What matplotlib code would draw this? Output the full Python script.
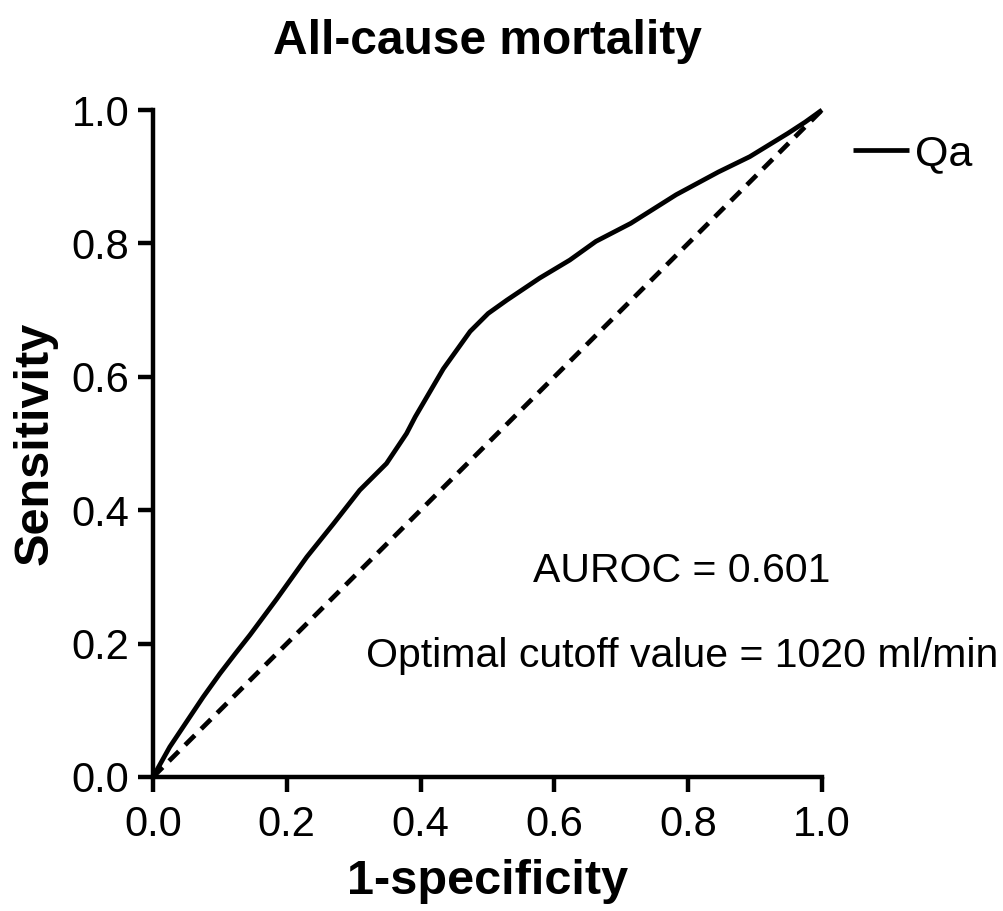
import matplotlib
matplotlib.use("Agg")
import matplotlib.pyplot as plt

plt.rcParams['font.family'] = ['Liberation Sans', 'DejaVu Sans']

fpr = [0, 0.025, 0.055, 0.075, 0.100, 0.123, 0.145, 0.165, 0.185, 0.230, 0.270,
       0.309, 0.349, 0.379, 0.392, 0.434, 0.474, 0.501, 0.529, 0.578, 0.623,
       0.662, 0.714, 0.782, 0.845, 0.892, 0.949, 0.975, 1.0]
tpr = [0, 0.045, 0.090, 0.120, 0.155, 0.185, 0.213, 0.240, 0.267, 0.330, 0.380,
       0.430, 0.470, 0.515, 0.540, 0.612, 0.668, 0.695, 0.715, 0.748, 0.775,
       0.803, 0.830, 0.873, 0.907, 0.930, 0.965, 0.982, 1.0]
ref_line = [0, 1]
ticks = [0.0, 0.2, 0.4, 0.6, 0.8, 1.0]
tick_labels = ["0.0", "0.2", "0.4", "0.6", "0.8", "1.0"]
series_name = "Qa"
auroc_text = "AUROC = 0.601"
cutoff_text = "Optimal cutoff value = 1020 ml/min"

fig = plt.figure(figsize=(10.04, 9.11), dpi=100)
ax = fig.add_axes([153/1004, 1-777/911, (822-153)/1004, (777-110)/911])

ax.plot(fpr, tpr, color='black', lw=3.4, label=series_name, clip_on=False,
        solid_joinstyle='round', solid_capstyle='butt')
ax.plot(ref_line, ref_line, color='black', lw=3.4, ls=(0, (2.9, 1.9)), clip_on=False)

ax.set_xlim(0, 1)
ax.set_ylim(0, 1)
ax.set_xticks(ticks)
ax.set_xticklabels(tick_labels)
ax.set_yticks(ticks)
ax.set_yticklabels(tick_labels)
for s in ['top', 'right']:
    ax.spines[s].set_visible(False)
for s in ['left', 'bottom']:
    ax.spines[s].set_linewidth(3.2)
ax.tick_params(direction='out', length=11, width=3.2, labelsize=30)
ax.tick_params(axis='x', pad=9)
ax.tick_params(axis='y', pad=6)

ax.set_title("All-cause mortality", fontsize=34.5, fontweight='bold', pad=40)
ax.set_xlabel("1-specificity", fontsize=35, fontweight='bold', labelpad=10)
ax.set_ylabel("Sensitivity", fontsize=35, fontweight='bold', labelpad=10)

ax.text(0.791, 0.309, auroc_text, fontsize=29.5, ha='center', va='center')
ax.text(0.791, 0.181, cutoff_text, fontsize=29.5, ha='center', va='center')

leg = ax.legend(loc='upper left', bbox_to_anchor=(1.02, 0.99), frameon=False,
                fontsize=31, handlelength=1.3, handletextpad=0.15, borderaxespad=0)

fig.savefig("out.png", dpi=100)
